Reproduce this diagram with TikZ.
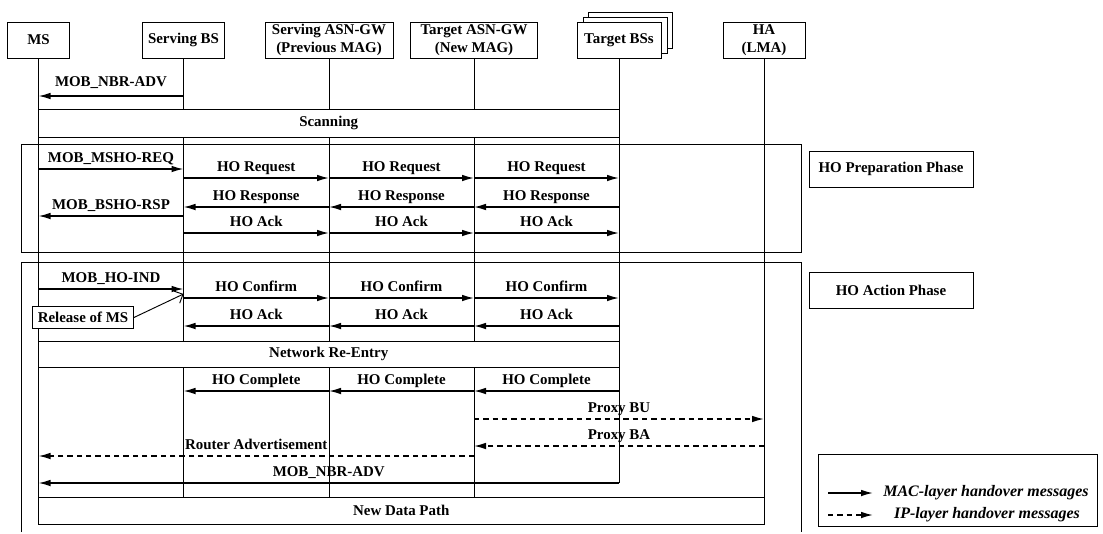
\documentclass[tikz,border=0pt]{standalone}
\usepackage{fontspec}
\setmainfont{Liberation Serif}
\usetikzlibrary{arrows.meta,positioning}
\newcommand{\msgfont}{\fontsize{11.2}{13.5}\selectfont\bfseries}
\newcommand{\legfont}{\fontsize{12}{14}\selectfont\bfseries\itshape}

\begin{document}
\begin{tikzpicture}[x=0.75pt, y=-0.75pt,
    actor/.style={draw, fill=white, line width=0.6pt, minimum height=27pt, inner sep=1pt, align=center, font=\msgfont},
    life/.style={line width=0.7pt},
    bar/.style={draw, fill=white, line width=0.6pt},
    phase/.style={line width=0.6pt},
    mac/.style={line width=1.1pt, -{Latex[length=9pt,width=5pt]}},
    ip/.style={line width=1.1pt, dash pattern=on 4pt off 3pt, -{Latex[length=9pt,width=5pt]}},
    lbl/.style={above, font=\msgfont, inner sep=2pt, text height=8pt, text depth=2.5pt},
    tag/.style={draw, line width=0.6pt, minimum width=123pt, minimum height=27pt, font=\msgfont}]

    \useasboundingbox (0,0) rectangle (1103,533);

    % Phase frames
    \draw[phase] (21,144) rectangle (801,252);
    \draw[phase] (21,532) |- (801,262) -- (801,532);

    % === Entities ===
    \node[actor, minimum width=47pt] (ms) at (38.5,40) {MS};
    \node[actor, minimum width=61pt] (sbs) at (183.5,40) {Serving BS};
    \node[actor, minimum width=96pt] (sgw) at (329,40) {Serving ASN-GW\\(Previous MAG)};
    \node[actor, minimum width=95pt] (tgw) at (474,40) {Target ASN-GW\\(New MAG)};
    \draw[fill=white, line width=0.6pt] (588,12) rectangle (672,48);
    \draw[fill=white, line width=0.6pt] (583,17) rectangle (667,53);
    \node[actor, minimum width=63pt] (tbs) at (619,40) {Target BSs};
    \node[actor, minimum width=61.5pt] (ha) at (764,40) {HA\\(LMA)};

    % Lifelines
    \draw[life] (ms.south) -- (ms |- 0,497);
    \draw[life] (sbs.south) -- (sbs |- 0,497);
    \draw[life] (sgw.south) -- (sgw |- 0,497);
    \draw[life] (tgw.south) -- (tgw |- 0,497);
    \draw[life] (tbs.south) -- (tbs |- 0,483);
    \draw[life] (ha.south) -- (ha |- 0,497);

    % Shared activity bars
    \draw[bar] (ms |- 0,109) rectangle node[font=\msgfont] (scan) {Scanning} (tbs |- 0,137);
    \draw[bar] (ms |- 0,341) rectangle node[font=\msgfont] (reentry) {Network Re-Entry} (tbs |- 0,367);
    \draw[bar] (ms |- 0,497) rectangle node[font=\msgfont] (datapath) {New Data Path} (ha |- 0,524);

    % === Preparation messages ===
    \draw[mac] (sbs |- 0,96) -- (ms |- 0,96) node[midway, lbl, yshift=2pt] {MOB\_NBR-ADV};
    \draw[mac] (ms |- 0,169) -- (sbs |- 0,169) node[midway, lbl] {MOB\_MSHO-REQ};
    \foreach \a/\b in {sbs/sgw, sgw/tgw, tgw/tbs}
        \draw[mac] (\a |- 0,178) -- (\b |- 0,178) node[midway, lbl] {HO Request};
    \foreach \a/\b in {tbs/tgw, tgw/sgw, sgw/sbs}
        \draw[mac] (\a |- 0,207) -- (\b |- 0,207) node[midway, lbl] {HO Response};
    \draw[mac] (sbs |- 0,216) -- (ms |- 0,216) node[midway, lbl] {MOB\_BSHO-RSP};
    \foreach \a/\b in {sbs/sgw, sgw/tgw, tgw/tbs}
        \draw[mac] (\a |- 0,233) -- (\b |- 0,233) node[midway, lbl] {HO Ack};

    % === Action messages ===
    \draw[mac] (ms |- 0,289) -- (sbs |- 0,289) node[midway, lbl] {MOB\_HO-IND};
    \foreach \a/\b in {sbs/sgw, sgw/tgw, tgw/tbs}
        \draw[mac] (\a |- 0,298) -- (\b |- 0,298) node[midway, lbl] {HO Confirm};
    \foreach \a/\b in {tbs/tgw, tgw/sgw, sgw/sbs}
        \draw[mac] (\a |- 0,326) -- (\b |- 0,326) node[midway, lbl] {HO Ack};
    \foreach \a/\b in {tbs/tgw, tgw/sgw, sgw/sbs}
        \draw[mac] (\a |- 0,391) -- (\b |- 0,391) node[midway, lbl] {HO Complete};
    \draw[ip] (tgw |- 0,419) -- (ha |- 0,419) node[midway, lbl] {Proxy BU};
    \draw[ip] (ha |- 0,446) -- (tgw |- 0,446) node[midway, lbl] {Proxy BA};
    \draw[ip] (tgw |- 0,456) -- (ms |- 0,456) node[midway, lbl] {Router Advertisement};
    \draw[mac] (tbs |- 0,483) -- (ms |- 0,483) node[midway, lbl] {MOB\_NBR-ADV};

    % Release note
    \node[draw, fill=white, line width=0.6pt, font=\msgfont, inner sep=4pt] (release) at (83,317.5) {Release of MS};
    \draw[line width=0.7pt, -{Straight Barb[length=5pt]}] (release.east) -- (sbs |- 0,294);

    % Phase tags
    \node[tag] (prep) at (891,169) {HO Preparation Phase};
    \node[tag] (action) at (891,290) {HO Action Phase};

    % Legend
    \draw[line width=0.6pt] (818,454) rectangle (1097,526);
    \coordinate (m0) at (828,493);
    \coordinate (m1) at (873,493);
    \coordinate (i0) at (828,515);
    \coordinate (i1) at (873,515);
    \draw[mac] (m0) -- (m1);
    \draw[ip] (i0) -- (i1);
    \node[font=\legfont] (maclbl) at (986,493) {MAC-layer handover messages};
    \node[font=\legfont] (iplbl) at (987,515) {IP-layer handover messages};
\end{tikzpicture}
\end{document}
